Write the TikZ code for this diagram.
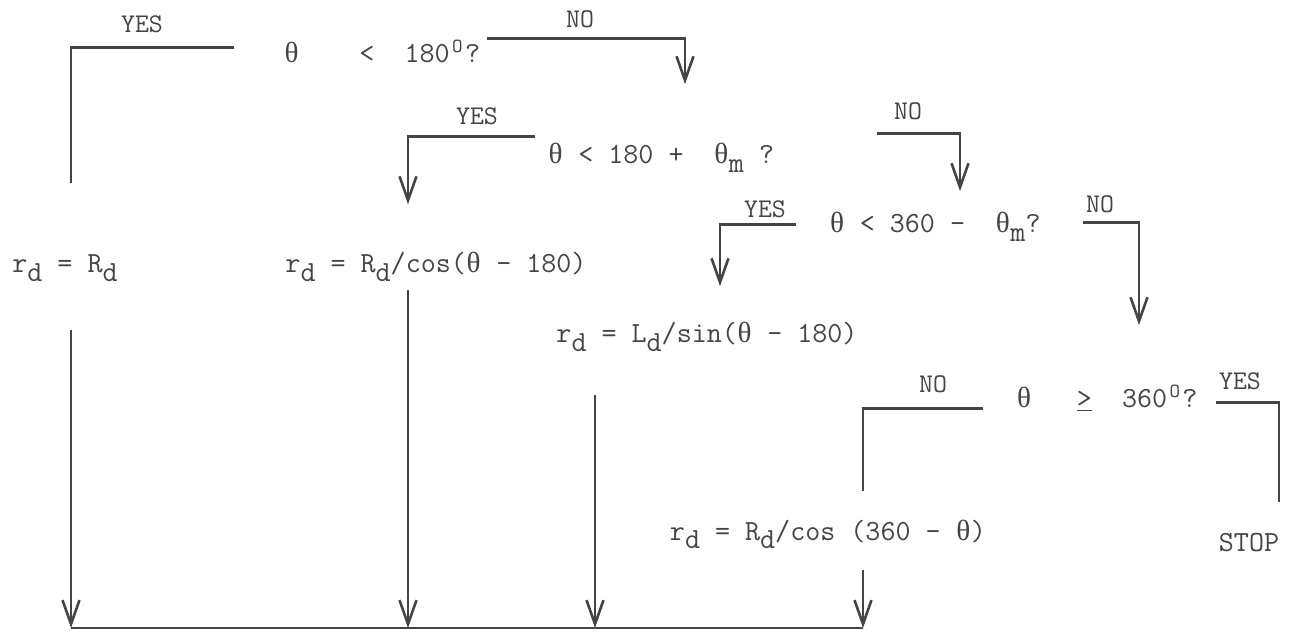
\documentclass[tikz,border=0pt]{standalone}
\usepackage{fontspec}
\newfontfamily\grkfont{Liberation Serif}
\usepackage{xcolor}
\definecolor{ink}{HTML}{444444}
\usetikzlibrary{arrows.meta}
% typewriter helpers
\newcommand\thet{\makebox[0.525em]{\grkfont θ}}
\newcommand\lowr[1]{\raisebox{-0.7ex}{#1}}
\newcommand\degr{\makebox[0.525em]{\raisebox{0.8ex}{\fontsize{10}{10}\selectfont O}}}

\begin{document}
\begin{tikzpicture}[x=0.5pt, y=-0.5pt,
    txt/.style={inner sep=0pt, anchor=base, text=ink,
                font=\fontsize{14.6}{17}\selectfont\ttfamily},
    lbl/.style={txt, font=\fontsize{13.5}{16}\selectfont\ttfamily},
    line/.style={draw=ink, line width=1.3pt},
    flow/.style={line, -{Straight Barb[length=12pt, width=8.5pt]}}
  ]
  \useasboundingbox (0,0) rectangle (1297,636);
  % Tests
  \node[txt] (d1) at (382,63)  {\thet~~~~<~~180\degr?};
  \node[txt] (d2) at (661,164) {\thet~<~180~+~~\thet\lowr{m}~?};
  \node[txt] (d3) at (935,233) {\thet~<~360~-~~\thet\lowr{m}?};
  \node[txt] (d4) at (1107,408) {\thet~~~\underline{>}~~360\degr?};
  % Results
  \node[txt] (r1) at (65,273)  {r\lowr{d}~=~R\lowr{d}};
  \node[txt] (r2) at (436,273) {r\lowr{d}~=~R\lowr{d}/cos(\thet~-~180)};
  \node[txt] (r3) at (707,343) {r\lowr{d}~=~L\lowr{d}/sin(\thet~-~180)};
  \node[txt] (r4) at (828,540) {r\lowr{d}~=~R\lowr{d}/cos~(360~-~\thet)};
  \node[txt] (stop) at (1249,552) {STOP};
  % Branch labels
  \foreach \nm/\x/\y/\t in {yes1/142/33/YES, no1/580/28/NO, yes2/477/125/YES,
      no2/908/120/NO, yes3/765/218/YES, no3/1100/213/NO,
      no4/933/393/NO, yes4/1240/390/YES}
    \node[lbl] (\nm) at (\x,\y) {\t};
  % Branches
  \draw[line, shorten <=25pt, shorten >=36pt] ([yshift=5.5pt]d1.mid west) -| ([xshift=3pt]r1.north);
  \draw[flow, shorten <=3.5pt, shorten >=29.5pt] ([yshift=10pt]d1.mid east) -| ([xshift=12pt]d2.north);
  \draw[flow, shorten <=6.5pt, shorten >=24pt] ([yshift=11.5pt]d2.mid west) -| ([xshift=-14pt]r2.north);
  \draw[flow, shorten <=51.5pt, shorten >=10.5pt] ([yshift=13pt]d2.mid east) -| ([xshift=12.5pt]d3.north);
  \draw[flow, shorten <=16.5pt, shorten >=18pt] ([yshift=2pt]d3.mid west) -| ([xshift=6.5pt]r3.north);
  \draw[flow, shorten <=21pt, shorten >=30pt] ([yshift=3pt]d3.mid east) -| ([xshift=16pt]d4.north);
  \draw[line, shorten <=16.5pt, shorten >=14pt] ([yshift=-2.5pt]d4.mid west) -| ([xshift=17.5pt]r4.north);
  \draw[line, shorten <=9pt, shorten >=15.5pt] ([yshift=0.5pt]d4.mid east) -| ([xshift=15pt]stop.north);
  % Collector
  \coordinate (bus) at (0,628);
  \foreach \n/\dx/\gap in {1/3pt/24pt, 2/-14pt/4pt, 3/-56pt/21.5pt, 4/17.5pt/10.5pt}{
    \path ([xshift=\dx]r\n.south) coordinate (t\n);
    \coordinate (b\n) at (t\n |- bus);
    \draw[flow, shorten <=\gap] (t\n) -- (b\n);
  }
  \draw[line] (b1) -- (b4);
\end{tikzpicture}
\end{document}
